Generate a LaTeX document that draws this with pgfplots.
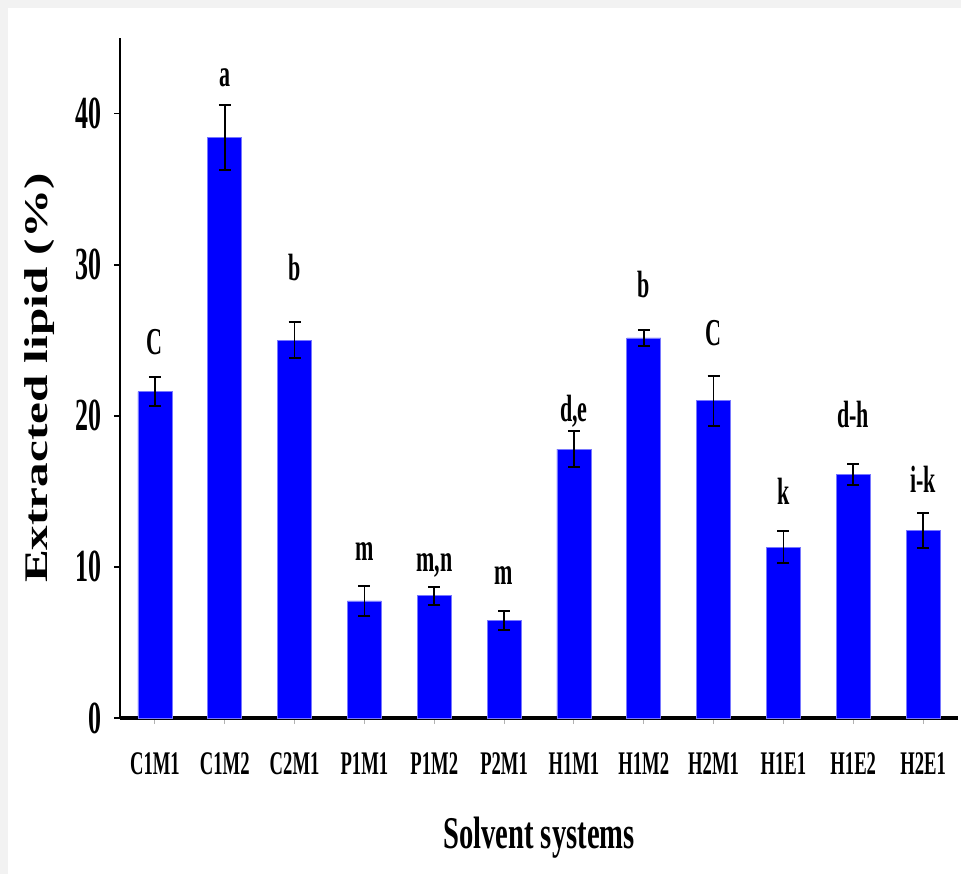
\documentclass[border=0pt]{standalone}
\usepackage{fontspec}
\setmainfont{Liberation Serif}
\usepackage{pgfplots}
\pgfplotsset{compat=1.18}
\usepackage{pgfplotstable}
\newfontfamily\condA[FakeStretch=0.565]{Liberation Serif}
\newfontfamily\condB[FakeStretch=0.63]{Liberation Serif}
\newfontfamily\condC[FakeStretch=0.58]{Liberation Serif}

\pgfplotstableread{
x y err ly lab
0 21.6 0.95 24.9 C
1 38.4 2.15 42.4 a
2 25.0 1.2 29.8 b
3 7.75 1.0 11.0 m
4 8.1 0.6 10.1 {m,n}
5 6.45 0.6 9.4 m
6 17.8 1.2 20.3 {d,e}
7 25.15 0.55 28.7 b
8 21.0 1.65 25.5 C
9 11.3 1.05 15.0 k
10 16.1 0.7 20.1 d-h
11 12.4 1.15 15.8 i-k
}\data

\begin{document}
\begin{tikzpicture}
\useasboundingbox (-60pt,-78pt) rectangle (420.5pt,359pt);
\fill[gray!10] (-60pt,-78pt) rectangle (-56pt,359pt);
\fill[gray!10] (-60pt,355pt) rectangle (420.5pt,359pt);
\begin{axis}[
  at={(0,0)}, anchor=south west,
  scale only axis,
  width=419pt, height=340pt,
  xmin=-0.5, xmax=11.5,
  ymin=0, ymax=45,
  clip=false,
  axis x line*=bottom,
  axis y line*=left,
  x axis line style={-, line width=2pt, black},
  y axis line style={-, line width=0.9pt, black},
  tick align=outside,
  major tick length=3pt,
  xtick={0,...,11},
  xticklabels={C1M1,C1M2,C2M1,P1M1,P1M2,P2M1,H1M1,H1M2,H2M1,H1E1,H1E2,H2E1},
  xtick style={draw=gray!60, line width=0.5pt},
  xticklabel style={font={\fontsize{16.5}{18}\condA\bfseries}, anchor=base, yshift=-25pt, inner sep=0pt},
  ytick={0,10,20,30,40},
  yticklabels={0,10,20,30,40},
  ytick style={draw=black, line width=0.9pt},
  yticklabel style={font={\fontsize{23}{26}\condA\bfseries}, anchor=east, inner sep=0pt, xshift=-6.2pt},
  xlabel={Solvent systems},
  xlabel style={font={\fontsize{22.7}{26}\condB\bfseries}, at={(axis description cs:0.5,0)}, anchor=base, yshift=-65pt, inner sep=0pt},
  ylabel={\scalebox{1.49}[1]{Extracted lipid (\%)}},
  ylabel style={font={\fontsize{16.5}{19}\selectfont\bfseries}, at={(axis description cs:-0.0955,0.5)}, anchor=center, inner sep=0pt},
]
\addplot[ybar, bar width=17pt, fill={rgb,255:red,0;green,0;blue,255}, draw={rgb,255:red,120;green,120;blue,255}, line width=0.4pt,
  error bars/.cd, y dir=both, y explicit,
  error bar style={line width=0.9pt, black},
  error mark=-,
  error mark options={rotate=90, black, mark size=3pt, line width=1pt}]
  table[x=x, y=y, y error=err]{\data};
\addplot[draw=none, mark=none, nodes near coords, point meta=explicit symbolic,
  nodes near coords style={anchor=center, inner sep=0pt, font={\fontsize{19}{22}\condC\bfseries}}]
  table[x=x, y=ly, meta=lab]{\data};
\end{axis}
\end{tikzpicture}
\end{document}
